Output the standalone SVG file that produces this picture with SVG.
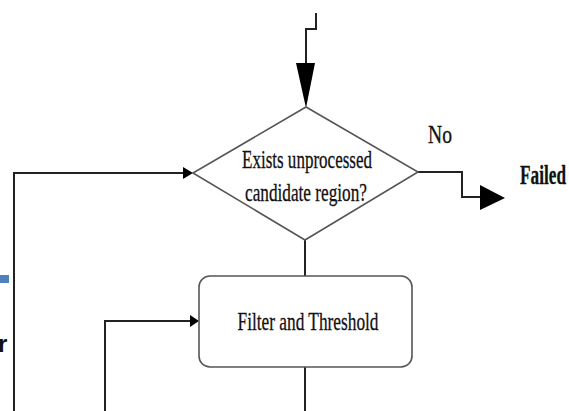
<svg xmlns="http://www.w3.org/2000/svg" width="569" height="411" viewBox="0 0 569 411">
<style>
.ln{fill:none;stroke:#222;stroke-width:2}
.sh{fill:#fff;stroke:#555;stroke-width:1.6}
.t{font-family:"Liberation Serif","Times New Roman",serif;fill:#111;stroke:#111;stroke-width:0.3}
.ah{fill:#000}
</style>
<rect width="569" height="411" fill="#fff"/>
<g id="connectors">
<polyline class="ln" points="316,13 316,29 306,29 306,70"/>
<polygon class="ah" points="296,63 315,63 306,108"/>
<polyline class="ln" points="14,411 14,173 184,173"/>
<polygon class="ah" points="183,167 193,173 183,179"/>
<polyline class="ln" points="105,411 105,321 191,321"/>
<polygon class="ah" points="190,315 199,321 190,327"/>
<line class="ln" x1="305" y1="240" x2="305" y2="276"/>
<line class="ln" x1="305" y1="367" x2="305" y2="411"/>
<polyline class="ln" points="418,172 462,172 462,197 482,197"/>
<polygon class="ah" points="480,185 505,198 480,210"/>
</g>
<g id="decision">
<polygon class="sh" points="306,107 418,172 305,240 193,173"/>
<text class="t" x="307" y="168" font-size="25" text-anchor="middle" textLength="130" lengthAdjust="spacingAndGlyphs">Exists unprocessed</text>
<text class="t" x="306" y="201" font-size="25" text-anchor="middle" textLength="122" lengthAdjust="spacingAndGlyphs">candidate region?</text>
</g>
<g id="filter">
<rect class="sh" x="199" y="276" width="213" height="91" rx="11"/>
<text class="t" x="308" y="330" font-size="26" text-anchor="middle" textLength="141" lengthAdjust="spacingAndGlyphs">Filter and Threshold</text>
</g>
<g id="label-no">
<text class="t" x="428" y="143" font-size="26" textLength="24" lengthAdjust="spacingAndGlyphs">No</text>
</g>
<g id="failed">
<text class="t" x="520" y="184" font-size="27" font-weight="bold" textLength="46" lengthAdjust="spacingAndGlyphs">Failed</text>
</g>
<g id="edge-left">
<rect x="0" y="275" width="9" height="8" fill="#4f81bd"/>
<text x="-2" y="352" font-family="Liberation Sans,Arial,sans-serif" font-size="24" font-weight="bold" fill="#111">r</text>
</g>
</svg>
